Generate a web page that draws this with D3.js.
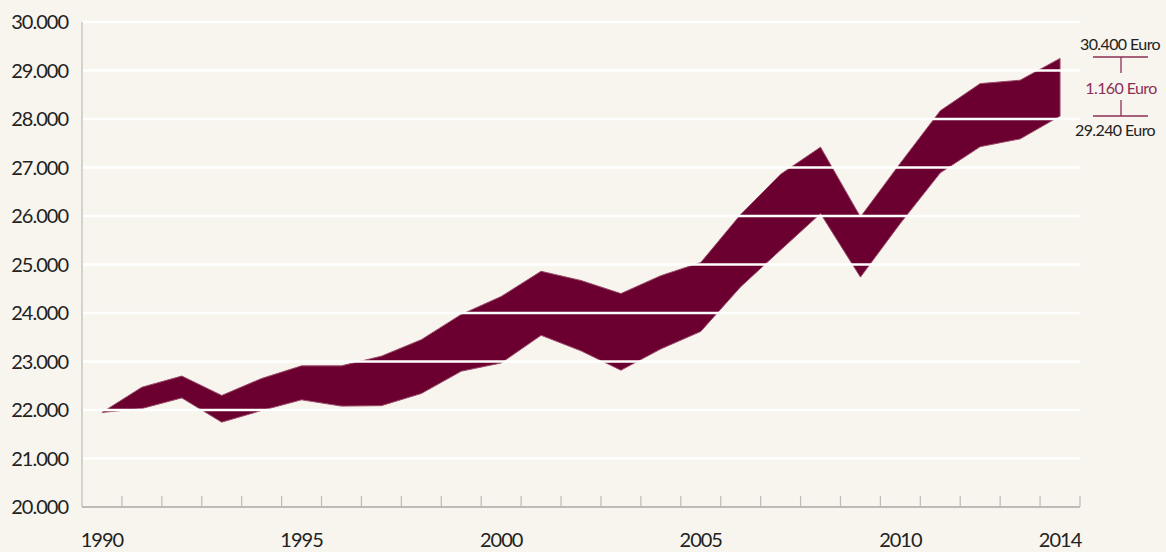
<!DOCTYPE html>
<html>
<head>
<meta charset="utf-8">
<script src="https://cdn.jsdelivr.net/npm/d3@7"></script>
<style>
  html, body { margin: 0; padding: 0; background: #f7f5ee; }
  svg { display: block; font-family: Lato, "Open Sans", sans-serif; }
</style>
</head>
<body>
<div id="chart"></div>
<script>
// values
const years = d3.range(1990, 2015);
const upper = [21950, 22470, 22700, 22300, 22650, 22910, 22910, 23110, 23450, 23970,
  24340, 24860, 24670, 24400, 24770, 25040, 26030, 26860, 27420, 25980,
  27090, 28170, 28730, 28800, 29250];
const lower = [21950, 22030, 22250, 21750, 21990, 22210, 22080, 22090, 22340, 22800,
  22970, 23540, 23220, 22820, 23260, 23620, 24540, 25300, 26050, 24740,
  25850, 26890, 27430, 27590, 28060];
const yTicks = d3.range(20000, 30001, 1000);
const xLabels = [1990, 1995, 2000, 2005, 2010, 2014];
const annoTop = "30.400 Euro";
const annoDiff = "1.160 Euro";
const annoBottom = "29.240 Euro";

const W = 1166, H = 552;
const plotLeft = 82, plotRight = 1080, plotTop = 22, plotBottom = 507;

const svg = d3.select("#chart").append("svg")
  .attr("width", W)
  .attr("height", H);

const x = d3.scaleBand().domain(years).range([plotLeft, plotRight]);
const y = d3.scaleLinear().domain([20000, 30000]).range([plotBottom, plotTop]);
const fmt = v => d3.format(",")(v).replace(/,/g, ".");

const rows = years.map((yr, i) => ({ year: yr, hi: upper[i], lo: lower[i] }));

// band
const area = d3.area()
  .x(d => x(d.year) + x.bandwidth() / 2)
  .y0(d => y(d.lo))
  .y1(d => y(d.hi));

svg.append("path")
  .datum(rows)
  .attr("d", area)
  .attr("fill", "#6b0030")
  .attr("stroke", "#9a4a68")
  .attr("stroke-width", 1)
  .attr("stroke-linejoin", "round");

// white gridlines sit on top of the band
svg.append("g")
  .selectAll("line")
  .data(yTicks.filter(v => v > 20000))
  .join("line")
  .attr("x1", plotLeft)
  .attr("x2", plotRight)
  .attr("y1", d => y(d))
  .attr("y2", d => y(d))
  .attr("stroke", "#ffffff")
  .attr("stroke-width", 2.5);

// y axis line
svg.append("line")
  .attr("x1", plotLeft).attr("x2", plotLeft)
  .attr("y1", plotTop).attr("y2", plotBottom)
  .attr("stroke", "#c8c6c0")
  .attr("stroke-width", 1.5);

// y labels
svg.append("g")
  .selectAll("text")
  .data(yTicks)
  .join("text")
  .attr("x", 68)
  .attr("y", d => y(d))
  .attr("dy", "0.35em")
  .attr("text-anchor", "end")
  .attr("font-size", 20)
  .attr("letter-spacing", "-1px")
  .attr("fill", "#222")
  .text(d => fmt(d));

// x axis: ticks at the year boundaries, pointing up
const xAxisG = svg.append("g");
xAxisG.append("line")
  .attr("x1", plotLeft).attr("x2", plotRight)
  .attr("y1", plotBottom).attr("y2", plotBottom)
  .attr("stroke", "#bdbbb5")
  .attr("stroke-width", 2);

xAxisG.selectAll(".tick")
  .data(years)
  .join("line")
  .attr("class", "tick")
  .attr("x1", d => x(d) + x.bandwidth())
  .attr("x2", d => x(d) + x.bandwidth())
  .attr("y1", plotBottom)
  .attr("y2", plotBottom - 11)
  .attr("stroke", "#bdbbb5")
  .attr("stroke-width", 1.2);

xAxisG.selectAll(".lbl")
  .data(xLabels)
  .join("text")
  .attr("class", "lbl")
  .attr("x", d => x(d) + x.bandwidth() / 2)
  .attr("y", 547)
  .attr("text-anchor", "middle")
  .attr("font-size", 20)
  .attr("letter-spacing", "-1px")
  .attr("fill", "#222")
  .text(d => d);

// annotation on the right
const ann = svg.append("g");
const ax = 1120;
const accent = "#8c2f55";
ann.append("text")
  .attr("x", ax).attr("y", 50)
  .attr("text-anchor", "middle")
  .attr("font-size", 16).attr("letter-spacing", "-0.6px")
  .attr("fill", "#222")
  .text(annoTop);
ann.append("line")
  .attr("x1", 1093).attr("x2", 1148).attr("y1", 57).attr("y2", 57)
  .attr("stroke", accent).attr("stroke-width", 1.3);
ann.append("line")
  .attr("x1", ax + 1).attr("x2", ax + 1).attr("y1", 57).attr("y2", 73)
  .attr("stroke", accent).attr("stroke-width", 1.3);
ann.append("text")
  .attr("x", ax + 1).attr("y", 94)
  .attr("text-anchor", "middle")
  .attr("font-size", 16).attr("letter-spacing", "-0.6px")
  .attr("fill", accent)
  .text(annoDiff);
ann.append("line")
  .attr("x1", ax + 1).attr("x2", ax + 1).attr("y1", 100).attr("y2", 116)
  .attr("stroke", accent).attr("stroke-width", 1.3);
ann.append("line")
  .attr("x1", 1093).attr("x2", 1148).attr("y1", 116).attr("y2", 116)
  .attr("stroke", accent).attr("stroke-width", 1.3);
ann.append("text")
  .attr("x", 1115).attr("y", 136)
  .attr("text-anchor", "middle")
  .attr("font-size", 16).attr("letter-spacing", "-0.6px")
  .attr("fill", "#222")
  .text(annoBottom);
</script>
</body>
</html>
